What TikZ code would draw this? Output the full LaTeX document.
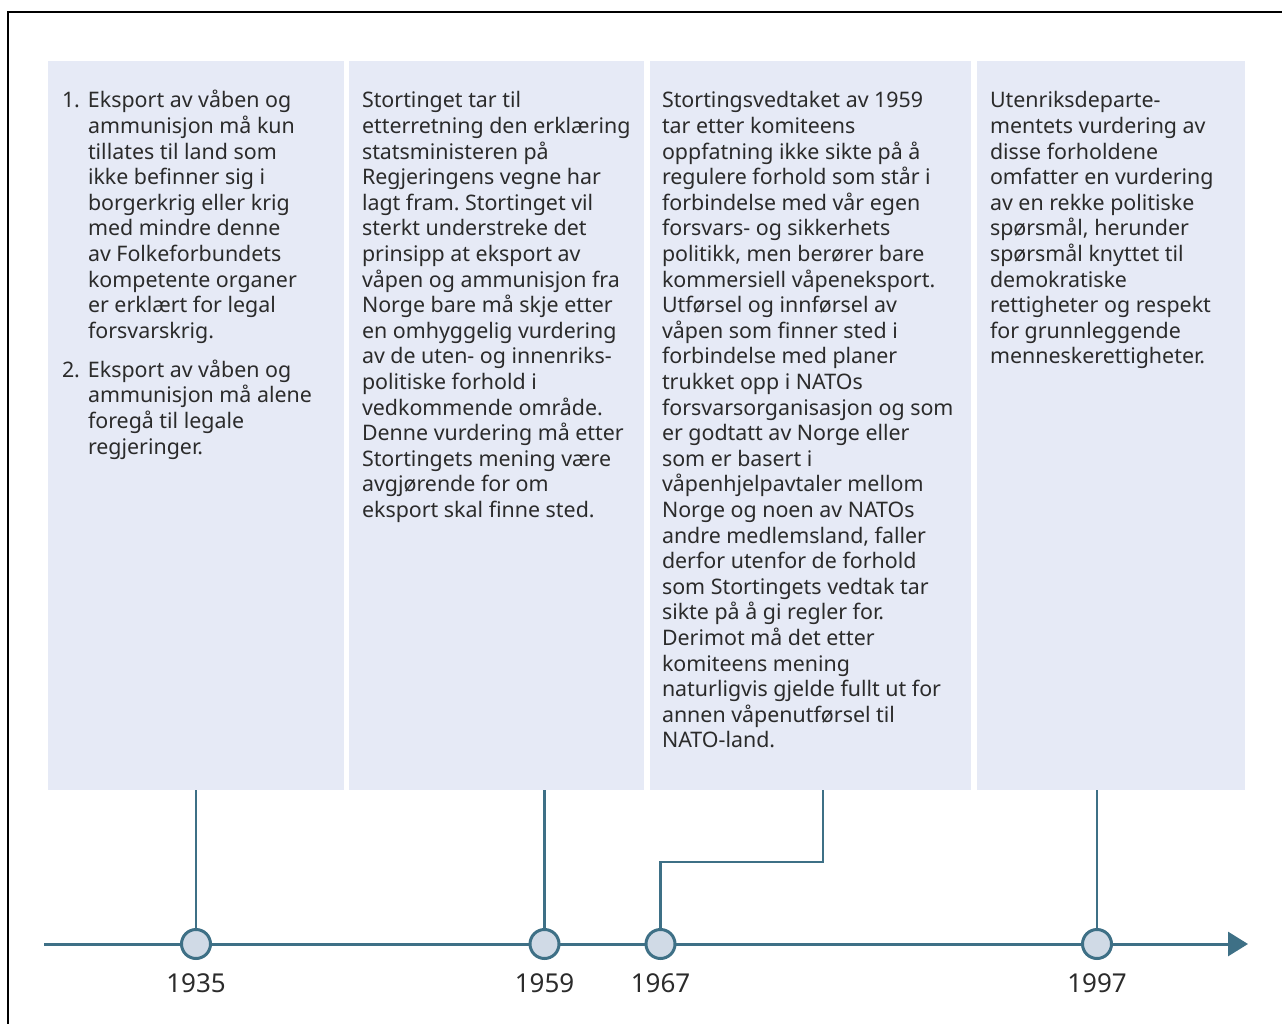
\documentclass[tikz,border=0pt]{standalone}
\usepackage{fontspec}
\setmainfont{Noto Sans}
\usetikzlibrary{arrows.meta}
\frenchspacing
\definecolor{boxfill}{RGB}{230,234,246}
\definecolor{tl}{RGB}{62,112,134}
\definecolor{dotfill}{RGB}{208,218,230}
\definecolor{txt}{RGB}{43,43,43}
\tikzset{
  panel/.style={fill=boxfill, draw=none, inner sep=0pt, outer sep=0pt, anchor=north west, minimum height=729pt},
  paneltext/.style={anchor=north west, inner sep=0pt, outer sep=0pt, align=left, text=txt, font=\fontsize{21.4}{25.6}\selectfont},
  dot/.style={circle, draw=tl, fill=dotfill, line width=3pt, minimum size=29pt, inner sep=0pt},
  year/.style={anchor=base, inner sep=0pt, text=txt, font=\fontsize{26}{30}\selectfont},
  link/.style={draw=tl, line width=2.2pt},
  axis/.style={draw=tl, line width=3pt, -{Triangle[length=20pt,width=24pt]}}
}
\begin{document}
\begin{tikzpicture}[x=1pt,y=-1pt]
\useasboundingbox (0,0) rectangle (1282,1024);
% frame
\coordinate (fbl) at (8,1026);
\coordinate (ftl) at (8,12);
\coordinate (ftr) at (1284,12);
\draw[line width=2.6pt, black] (fbl) -- (ftl) -- (ftr);
% panels
\node[panel, minimum width=295.5pt] (b1) at (48,61) {};
\node[panel, minimum width=294.5pt] (b2) at (349,61) {};
\node[panel, minimum width=321pt] (b3) at (649.5,61) {};
\node[panel, minimum width=268.5pt] (b4) at (976.5,61) {};
% texts
\node[paneltext] (t1) at (62,90) {\strut\makebox[26pt][l]{1.}Eksport av våben og\\
\hspace*{26pt}ammunisjon må kun\\
\hspace*{26pt}tillates til land som\\
\hspace*{26pt}ikke befinner sig i\\
\hspace*{26pt}borgerkrig eller krig\\
\hspace*{26pt}med mindre denne\\
\hspace*{26pt}av Folkeforbundets\\
\hspace*{26pt}kompetente organer\\
\hspace*{26pt}er erklært for legal\\
\hspace*{26pt}forsvarskrig.\\[13.4pt]
\makebox[26pt][l]{2.}Eksport av våben og\\
\hspace*{26pt}ammunisjon må alene\\
\hspace*{26pt}foregå til legale\\
\hspace*{26pt}regjeringer.};
\node[paneltext] (t2) at (362,90) {\strut Stortinget tar til\\
etterretning den erklæring\\
statsministeren på\\
Regjeringens vegne har\\
lagt fram. Stortinget vil\\
sterkt understreke det\\
prinsipp at eksport av\\
våpen og ammunisjon fra\\
Norge bare må skje etter\\
en omhyggelig vurdering\\
av de uten- og innenriks-\\
politiske forhold i\\
vedkommende område.\\
Denne vurdering må etter\\
Stortingets mening være\\
avgjørende for om\\
eksport skal finne sted.};
\node[paneltext] (t3) at (662,90) {\strut Stortingsvedtaket av 1959\\
tar etter komiteens\\
oppfatning ikke sikte på å\\
regulere forhold som står i\\
forbindelse med vår egen\\
forsvars- og sikkerhets\\
politikk, men berører bare\\
kommersiell våpeneksport.\\
Utførsel og innførsel av\\
våpen som finner sted i\\
forbindelse med planer\\
trukket opp i NATOs\\
forsvarsorganisasjon og som\\
er godtatt av Norge eller\\
som er basert i\\
våpenhjelpavtaler mellom\\
Norge og noen av NATOs\\
andre medlemsland, faller\\
derfor utenfor de forhold\\
som Stortingets vedtak tar\\
sikte på å gi regler for.\\
Derimot må det etter\\
komiteens mening\\
naturligvis gjelde fullt ut for\\
annen våpenutførsel til\\
NATO-land.};
\node[paneltext] (t4) at (990,90) {\strut Utenriksdeparte-\\
mentets vurdering av\\
disse forholdene\\
omfatter en vurdering\\
av en rekke politiske\\
spørsmål, herunder\\
spørsmål knyttet til\\
demokratiske\\
rettigheter og respekt\\
for grunnleggende\\
menneskerettigheter.};
% timeline axis
\coordinate (ax0) at (44,944);
\coordinate (ax1) at (1248,944);
\draw[axis] (ax0) -- (ax1);
% dots
\node[dot] (c1) at (196,944) {};
\node[dot] (c2) at (544.5,944) {};
\node[dot] (c3) at (660.5,944) {};
\node[dot] (c4) at (1097,944) {};
% years
\node[year] (y1) at (196,992) {1935};
\node[year] (y2) at (544.5,992) {1959};
\node[year] (y3) at (660.5,992) {1967};
\node[year] (y4) at (1097,992) {1997};
% links
\draw[link] (b1.south -| c1) -- (c1.north);
\draw[link] (b2.south -| c2) -- (c2.north);
\coordinate (k3) at (823,862);
\draw[link] (b3.south -| k3) -- (k3) -| (c3.north);
\draw[link] (b4.south -| c4) -- (c4.north);
\end{tikzpicture}
\end{document}
